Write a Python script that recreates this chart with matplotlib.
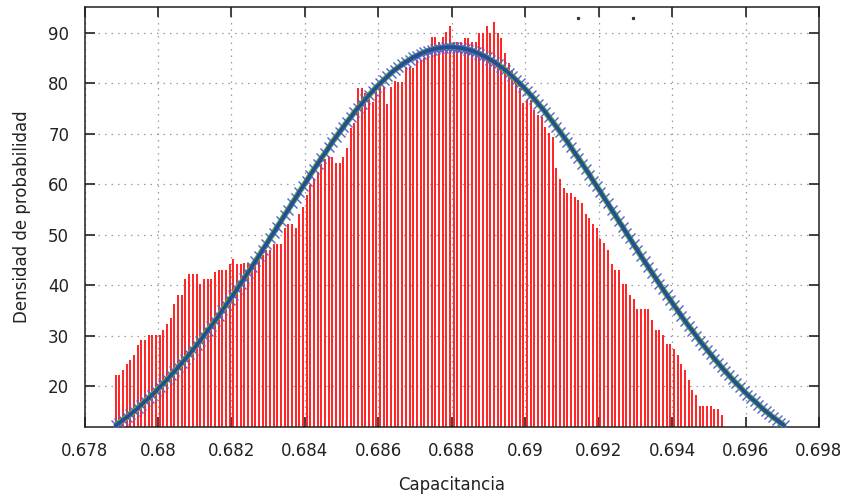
import numpy as np
import matplotlib.pyplot as plt
from matplotlib.lines import Line2D

# histogram of measured capacitance (counts per bin, bin width 0.0001)
counts = [
    22.2, 22.2, 23.2, 24.3, 25.1, 26.1, 28.2, 29.1, 29.1, 30.1,
    30.1, 30.1, 30.1, 31.2, 32.3, 33.4, 36.2, 38.0, 38.0, 41.2,
    42.3, 42.3, 42.3, 40.2, 41.2, 41.2, 41.2, 42.6, 43.1, 43.1,
    43.1, 44.1, 45.2, 44.1, 44.1, 44.3, 44.3, 44.1, 44.5, 45.0,
    46.0, 47.0, 47.0, 48.2, 48.2, 48.2, 51.3, 52.1, 52.1, 51.3,
    54.1, 55.4, 57.8, 59.8, 61.0, 62.5, 64.0, 65.0, 65.4, 65.4,
    64.3, 64.3, 65.4, 67.1, 71.1, 72.2, 79.0, 79.0, 78.2, 77.3,
    76.3, 79.0, 79.5, 79.2, 76.0, 79.2, 80.5, 80.3, 80.3, 83.3,
    83.3, 83.0, 84.6, 84.6, 85.0, 86.5, 89.3, 89.3, 88.3, 89.3,
    90.3, 91.4, 88.3, 88.3, 88.3, 89.1, 89.1, 88.3, 88.3, 90.1,
    90.1, 91.3, 90.1, 92.2, 90.1, 89.1, 86.0, 84.0, 82.7, 80.5,
    79.0, 76.1, 76.7, 76.7, 74.7, 73.7, 73.4, 71.4, 70.1, 69.4,
    63.2, 61.0, 59.2, 58.2, 58.2, 57.5, 56.8, 56.2, 54.2, 53.3,
    52.1, 51.3, 49.1, 48.3, 47.0, 44.1, 43.1, 43.1, 40.2, 40.2,
    38.0, 37.2, 35.2, 35.2, 35.2, 35.2, 33.1, 31.1, 31.1, 30.1,
    28.3, 28.3, 27.3, 26.1, 24.3, 23.2, 21.2, 19.3, 18.2, 16.1,
    16.1, 16.1, 16.1, 15.4, 15.4, 14.3,
]

# fitted normal density evaluated on the same grid
density = [
    12.2, 12.7, 13.3, 13.8, 14.4, 15.0, 15.6, 16.3, 17.0, 17.6,
    18.3, 19.0, 19.8, 20.5, 21.3, 22.1, 22.9, 23.7, 24.6, 25.4,
    26.3, 27.2, 28.1, 29.0, 30.0, 31.0, 31.9, 32.9, 33.9, 35.0,
    36.0, 37.1, 38.1, 39.2, 40.3, 41.4, 42.5, 43.6, 44.7, 45.8,
    47.0, 48.1, 49.3, 50.4, 51.6, 52.7, 53.9, 55.0, 56.2, 57.3,
    58.5, 59.6, 60.7, 61.9, 63.0, 64.1, 65.2, 66.2, 67.3, 68.4,
    69.4, 70.4, 71.4, 72.4, 73.3, 74.3, 75.2, 76.0, 76.9, 77.7,
    78.5, 79.3, 80.0, 80.7, 81.4, 82.1, 82.7, 83.2, 83.8, 84.3,
    84.7, 85.2, 85.5, 85.9, 86.2, 86.5, 86.7, 86.9, 87.0, 87.1,
    87.2, 87.2, 87.2,
    87.1, 87.0, 86.9, 86.7, 86.5, 86.2, 85.9, 85.5, 85.2, 84.7,
    84.3, 83.8, 83.2, 82.7, 82.1, 81.4, 80.7, 80.0, 79.3, 78.5,
    77.7, 76.9, 76.0, 75.2, 74.3, 73.3, 72.4, 71.4, 70.4, 69.4,
    68.4, 67.3, 66.2, 65.2, 64.1, 63.0, 61.9, 60.7, 59.6, 58.5,
    57.3, 56.2, 55.0, 53.9, 52.7, 51.6, 50.4, 49.3, 48.1, 47.0,
    45.8, 44.7, 43.6, 42.5, 41.4, 40.3, 39.2, 38.1, 37.1, 36.0,
    35.0, 33.9, 32.9, 31.9, 31.0, 30.0, 29.0, 28.1, 27.2, 26.3,
    25.4, 24.6, 23.7, 22.9, 22.1, 21.3, 20.5, 19.8, 19.0, 18.3,
    17.6, 17.0, 16.3, 15.6, 15.0, 14.4, 13.8, 13.3, 12.7, 12.2,
]

x_start = 0.67885
bin_width = 0.0001
hist_x = np.round(x_start + bin_width * np.arange(len(counts)), 5)
curve_x = np.round(x_start + bin_width * np.arange(len(density)), 5)

x_ticks = [0.678, 0.680, 0.682, 0.684, 0.686, 0.688, 0.690, 0.692, 0.694, 0.696, 0.698]
x_labels = ["0.678", "0.68", "0.682", "0.684", "0.686", "0.688", "0.69",
            "0.692", "0.694", "0.696", "0.698"]
y_ticks = [20, 30, 40, 50, 60, 70, 80, 90]

plt.rcParams["font.family"] = ["DejaVu Sans"]
text_col = "#222222"

fig = plt.figure(figsize=(8.48, 4.95), dpi=100)
ax = fig.add_axes([84.5 / 848, 1 - 427 / 495, (819 - 84.5) / 848, (427 - 7) / 495])

# histogram as impulses
ax.vlines(hist_x, 0, counts, colors="#ff1a1a", lw=1.35, zorder=2)

# normal fit: green line, blue crosses, dark blue core
ax.plot(curve_x, density, color="#5cb03a", lw=4.2, zorder=3, solid_capstyle="butt")
ax.plot(curve_x, density, ls="none", marker="x", ms=6.5, mew=1.0, color="#5462cc", zorder=4)
ax.plot(curve_x, density, color="#24508f", lw=2.6, zorder=5)

ax.set_xlim(0.678, 0.698)
ax.set_ylim(11.87, 95.16)
ax.set_xticks(x_ticks)
ax.set_xticklabels(x_labels)
ax.set_yticks(y_ticks)

ax.grid(True, color="#9a9a9a", lw=0.9, ls=(0, (1.2, 4)), zorder=0)
ax.set_axisbelow(True)

ax.tick_params(direction="in", length=7.5, width=1.4, color="#404040",
               top=True, right=True, labelsize=12, pad=11, labelcolor=text_col)
for s in ax.spines.values():
    s.set_linewidth(1.1)
    s.set_color("#202020")

ax.set_xlabel("Capacitancia", fontsize=12, labelpad=11, color=text_col)
ax.set_ylabel("Densidad de probabilidad", fontsize=12, labelpad=12, color=text_col)

# empty key entries at the top
key = [Line2D([], [], ls="none", marker="s", ms=1.3, color="#333333") for _ in range(2)]
ax.legend(key, ["", ""], ncol=2, frameon=False, loc="upper left",
          bbox_to_anchor=(564 / 848, 1 - 12 / 495), bbox_transform=fig.transFigure,
          fontsize=10, handlelength=2.0, handletextpad=0.8, columnspacing=1.16,
          borderpad=0, borderaxespad=0)

fig.savefig("out.png", dpi=100)
